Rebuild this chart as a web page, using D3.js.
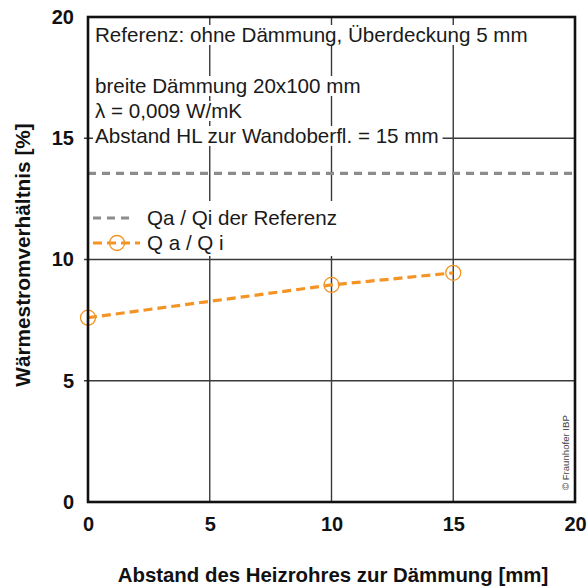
<!DOCTYPE html>
<html>
<head>
<meta charset="utf-8">
<script src="https://cdn.jsdelivr.net/npm/d3@7"></script>
<style>
  html, body { margin: 0; padding: 0; background: #fff; }
  svg { display: block; font-family: "Liberation Sans", Arial, sans-serif; }
</style>
</head>
<body>
<svg id="chart" width="587" height="586"></svg>
<script>
// Abstand des Heizrohres zur Dämmung [mm]
const distances = [0, 10, 15];
// Wärmestromverhältnis Qa / Qi [%]
const ratios = [7.6, 8.95, 9.45];
// Referenz ohne Dämmung
const referenceRatio = 13.55;

const xTicks = [0, 5, 10, 15, 20];
const yTicks = [0, 5, 10, 15, 20];

const infoLines = [
  "Referenz: ohne Dämmung, Überdeckung 5 mm",
  "",
  "breite Dämmung 20x100 mm",
  "λ = 0,009 W/mK",
  "Abstand HL zur Wandoberfl. = 15 mm"
];
const legendLabels = ["Qa / Qi der Referenz", "Q a / Q i"];

const orange = "#F39425";
const grey = "#8C8C8C";

const svg = d3.select("#chart");
const m = { left: 88, right: 12, top: 17, bottom: 84 };
const W = 587, H = 586;
const pw = W - m.left - m.right, ph = H - m.top - m.bottom;

const x = d3.scaleLinear().domain([0, 20]).range([m.left, m.left + pw]);
const y = d3.scaleLinear().domain([0, 20]).range([m.top + ph, m.top]);

// grid
const grid = svg.append("g").attr("stroke", "#3a3a3a").attr("stroke-width", 1.4);
grid.selectAll("line.v").data(xTicks.slice(1, -1)).join("line")
  .attr("x1", d => x(d)).attr("x2", d => x(d))
  .attr("y1", y(20)).attr("y2", y(0));
grid.selectAll("line.h").data(yTicks.slice(1, -1)).join("line")
  .attr("x1", x(0) - 4).attr("x2", x(20))
  .attr("y1", d => y(d)).attr("y2", d => y(d));

// info text block with white backing
const info = svg.append("g").attr("font-size", 20.6).attr("fill", "#1a1a1a");
const lineY = [42, 0, 93, 118, 143];
infoLines.forEach((t, i) => {
  if (!t) return;
  const txt = info.append("text").attr("x", x(0) + 7).attr("y", lineY[i]).text(t);
  const bb = txt.node().getBBox();
  info.insert("rect", "text")
    .attr("x", bb.x - 2).attr("y", bb.y + 2).attr("width", bb.width + 6).attr("height", bb.height - 3)
    .attr("fill", "#fff");
});

// legend
const leg = svg.append("g");
leg.append("rect").attr("x", x(0) + 2).attr("y", 201).attr("width", 256).attr("height", 55).attr("fill", "#fff");
leg.append("line").attr("x1", 93).attr("x2", 134).attr("y1", 218).attr("y2", 218)
  .attr("stroke", grey).attr("stroke-width", 3.2).attr("stroke-dasharray", "8,6");
leg.append("line").attr("x1", 93).attr("x2", 140).attr("y1", 243).attr("y2", 243)
  .attr("stroke", orange).attr("stroke-width", 3.2).attr("stroke-dasharray", "9,5");
leg.append("circle").attr("cx", 117).attr("cy", 243).attr("r", 7.5)
  .attr("fill", "none").attr("stroke", orange).attr("stroke-width", 1.3);
leg.selectAll("text").data(legendLabels).join("text")
  .attr("x", 147).attr("y", (d, i) => 225 + i * 25)
  .attr("font-size", 20.6).attr("fill", "#1a1a1a").text(d => d);

// reference line
svg.append("line")
  .attr("x1", x(0)).attr("x2", x(20))
  .attr("y1", y(referenceRatio)).attr("y2", y(referenceRatio))
  .attr("stroke", grey).attr("stroke-width", 3.2).attr("stroke-dasharray", "8,6");

// series
const pts = distances.map((d, i) => [d, ratios[i]]);
svg.append("path").datum(pts)
  .attr("d", d3.line().x(d => x(d[0])).y(d => y(d[1])))
  .attr("fill", "none").attr("stroke", orange).attr("stroke-width", 3.2)
  .attr("stroke-dasharray", "9,5");
svg.selectAll("circle.pt").data(pts).join("circle").attr("class", "pt")
  .attr("cx", d => x(d[0])).attr("cy", d => y(d[1])).attr("r", 7.5)
  .attr("fill", "none").attr("stroke", orange).attr("stroke-width", 1.3);

// frame
svg.append("rect").attr("x", x(0)).attr("y", y(20)).attr("width", pw).attr("height", ph)
  .attr("fill", "none").attr("stroke", "#111").attr("stroke-width", 2.6);

// axes
const xAxis = svg.append("g").attr("transform", `translate(0,${y(0)})`)
  .call(d3.axisBottom(x).tickValues(xTicks).tickSize(0).tickPadding(15).tickFormat(d3.format("d")));
const yAxis = svg.append("g").attr("transform", `translate(${x(0)},0)`)
  .call(d3.axisLeft(y).tickValues(yTicks).tickSize(0).tickPadding(14).tickFormat(d3.format("d")));
[xAxis, yAxis].forEach(a => {
  a.select(".domain").remove();
  a.selectAll("text").attr("font-size", 20).attr("font-weight", "bold")
    .attr("fill", "#111").attr("font-family", "Liberation Sans, Arial, sans-serif");
});

// axis titles
svg.append("text").attr("x", 333).attr("y", 582).attr("text-anchor", "middle")
  .attr("font-size", 20.4).attr("font-weight", "bold").attr("fill", "#111")
  .text("Abstand des Heizrohres zur Dämmung [mm]");
svg.append("text").attr("transform", `translate(30,${255}) rotate(-90)`).attr("text-anchor", "middle")
  .attr("font-size", 20.8).attr("font-weight", "bold").attr("fill", "#111")
  .text("Wärmestromverhältnis [%]");

// copyright
svg.append("text").attr("transform", `translate(569,${490}) rotate(-90)`)
  .attr("font-size", 9.6).attr("fill", "#444").text("© Fraunhofer IBP");
</script>
</body>
</html>
